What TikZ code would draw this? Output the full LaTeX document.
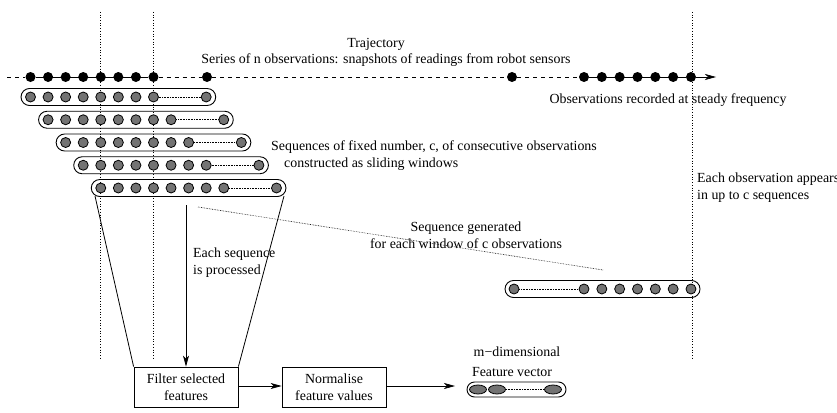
\documentclass[tikz,border=0pt]{standalone}
\usepackage{fontspec}
\setmainfont{Liberation Serif}
\usetikzlibrary{arrows.meta,shapes.geometric}
\definecolor{dotgray}{RGB}{115,115,115}
\begin{document}
\begin{tikzpicture}[x=1pt,y=-1pt,
  obs/.style={circle,fill=black,inner sep=0pt,minimum size=10pt},
  sdot/.style={circle,draw=black,fill=dotgray,line width=0.8pt,inner sep=0pt,minimum size=10pt},
  fdot/.style={ellipse,draw=black,fill=dotgray,line width=0.8pt,minimum width=17pt,minimum height=9pt,inner sep=0pt},
  seqbox/.style={draw=black,line width=0.9pt,rounded corners=8.5pt},
  guide/.style={dotted,line width=0.7pt},
  link/.style={densely dotted,line width=0.6pt},
  procbox/.style={draw=black,line width=0.8pt,minimum width=104pt,minimum height=40pt,inner sep=2pt,align=center,font=\fontsize{13.9}{17}\selectfont},
  lbl/.style={inner sep=0pt,font=\fontsize{13.9}{16.5}\selectfont},
  arr/.style={-{Stealth[length=11pt,width=6pt,inset=3pt]},line width=0.7pt}
]
\useasboundingbox (0,0) rectangle (837,412);
% vertical guides
\coordinate (g1a) at (100,12); \coordinate (g1b) at (100,358);
\coordinate (g2a) at (153,12); \coordinate (g2b) at (153,358);
\coordinate (g3a) at (692,12); \coordinate (g3b) at (692,358);
\draw[guide] (g1a) -- (g1b);
\draw[guide] (g2a) -- (g2b);
\draw[guide] (g3a) -- (g3b);
% trajectory
\coordinate (tstart) at (7,77);
\coordinate (tend) at (716,77);
\foreach \i in {1,...,8} \node[obs] (t\i) at ({30.5+(\i-1)*17.57},77) {};
\node[obs] (t9) at (207,77) {};
\node[obs] (t10) at (512,77) {};
\foreach \i in {1,...,7} \node[obs] (r\i) at ({584+(\i-1)*17.83},77) {};
\draw[dashed,dash pattern=on 4pt off 4pt,line width=0.8pt] (tstart) -- (t1);
\draw[line width=0.8pt] (t1) -- (t8);
\draw[dashed,dash pattern=on 4pt off 4pt,line width=0.8pt] (t8) -- (t9) -- (t10) -- (r1);
\draw[line width=0.8pt] (r1) -- (r7);
\draw[arr] (r7) -- (tend);
% sliding-window sequences
\foreach \k in {0,...,4}{
  \pgfmathsetmacro{\yy}{97+\k*22.75}
  \pgfmathsetmacro{\xa}{30.5+\k*17.57}
  \pgfmathsetmacro{\xb}{30.5+(\k+10)*17.57}
  \draw[seqbox] ({\xa-9.5},{\yy-8.5}) rectangle ({\xb+9.5},{\yy+8.5});
  \foreach \i in {0,...,7}
    \node[sdot] (s\k-\i) at ({30.5+(\k+\i)*17.57},\yy) {};
  \node[sdot] (s\k-e) at (\xb,\yy) {};
  \draw[link] (s\k-7) -- (s\k-e);
}
% trapezoid
\node[procbox] (filt) at (186,387) {Filter selected\\features};
\node[procbox] (norm) at (334,387) {Normalise\\feature values};
\coordinate (tl) at (95,196);
\coordinate (tr) at (284,196);
\draw[line width=0.8pt] (tl) -- (filt.north west);
\draw[line width=0.8pt] (tr) -- (filt.north east);
% processing arrow
\coordinate (ptop) at (186,205);
\draw[arr] (ptop) -- (filt.north);
% generated sequence
\draw[seqbox] (505,280.5) rectangle (700,297.5);
\node[sdot] (q0) at (514,289) {};
\foreach \i in {1,...,7} \node[sdot] (q\i) at ({584+(\i-1)*17.83},289) {};
\draw[link] (q0) -- (q1);
\coordinate (da) at (198,207);
\coordinate (db) at (603,270);
\draw[link] (da) -- (db);
% feature vector
\draw[seqbox,rounded corners=7.5pt] (467,382) rectangle (566,397);
\node[fdot] (f1) at (478,389.5) {};
\node[fdot] (f2) at (497,389.5) {};
\node[fdot] (f3) at (553,389.5) {};
\draw[link] (f2) -- (f3);
\coordinate (fin) at (455,386);
\draw[arr] (filt.east |- 0,386) -- (norm.west |- 0,386);
\draw[arr] (norm.east |- 0,386) -- (fin);
% labels
\node[lbl] (ttraj) at (376,44) {Trajectory};
\node[lbl] (tser) at (386,60) {Series of n observations: snapshots of readings from robot sensors};
\node[lbl] (tobs) at (668,100) {Observations recorded at steady frequency};
\node[lbl,anchor=west] (tseq1) at (271,147) {Sequences of fixed number, c, of consecutive observations};
\node[lbl,anchor=west] (tseq2) at (284,164) {constructed as sliding windows};
\node[lbl,anchor=north west,align=left] (teach) at (697,173) {Each observation appears\\in up to c sequences};
\node[lbl,anchor=north west,align=left] (tproc) at (193,248) {Each sequence\\is processed};
\node[lbl,align=center] (tgen) at (466,235) {Sequence generated\\for each window of c observations};
\node[lbl] (tmdim) at (517,352) {m−dimensional};
\node[lbl] (tfv) at (512,372) {Feature vector};
\end{tikzpicture}
\end{document}
